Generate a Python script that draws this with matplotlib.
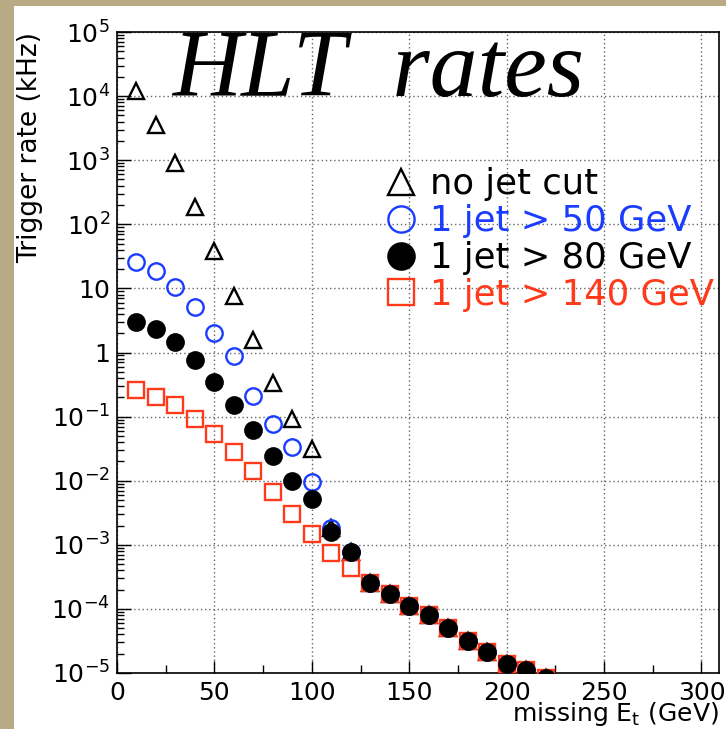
import math

import matplotlib
matplotlib.use("Agg")
import matplotlib.pyplot as plt
from matplotlib.patches import Rectangle
from matplotlib.ticker import FixedLocator, LogLocator, NullFormatter, FuncFormatter

plt.rcParams["font.family"] = ["DejaVu Sans"]
plt.rcParams["mathtext.fontset"] = "dejavusans"

# missing Et thresholds (GeV)
met = [10, 20, 30, 40, 50, 60, 70, 80, 90, 100, 110, 120,
       130, 140, 150, 160, 170, 180, 190, 200, 210, 220]

# trigger rates in kHz for each jet requirement
rate_nojet = [1.2e4, 3.6e3, 900, 185, 39, 7.5, 1.55, 0.33, 0.093, 0.031, 1.8e-3, 7.8e-4,
              2.5e-4, 1.7e-4, 1.12e-4, 7.9e-5, 5.0e-5, 3.2e-5, 2.1e-5, 1.37e-5, 1.1e-5, 8.3e-6]
rate_j50 = [26, 19, 10.7, 5.2, 2.05, 0.87, 0.21, 0.078, 0.033, 0.0096, 1.8e-3, 7.8e-4,
            2.5e-4, 1.7e-4, 1.12e-4, 7.9e-5, 5.0e-5, 3.2e-5, 2.1e-5, 1.37e-5, 1.1e-5, 8.3e-6]
rate_j80 = [3.0, 2.3, 1.45, 0.77, 0.35, 0.15, 0.062, 0.024, 0.010, 0.0052, 1.6e-3, 7.8e-4,
            2.5e-4, 1.7e-4, 1.12e-4, 7.9e-5, 5.0e-5, 3.2e-5, 2.1e-5, 1.37e-5, 1.1e-5, 8.3e-6]
rate_j140 = [0.26, 0.20, 0.15, 0.093, 0.054, 0.028, 0.014, 0.0067, 0.003, 0.0015, 7.5e-4, 4.4e-4,
             2.5e-4, 1.7e-4, 1.12e-4, 7.9e-5, 5.0e-5, 3.2e-5, 2.1e-5, 1.37e-5, 1.1e-5, 8.3e-6]

labels = ["no jet cut", "1 jet > 50 GeV", "1 jet > 80 GeV", "1 jet > 140 GeV"]
blue = "#1a3cff"
red = "#ff3a1a"

fig = plt.figure(figsize=(7.26, 7.29), dpi=100)
fig.patch.set_facecolor("#b8aa85")
# white slide panel behind the plot
fig.patches.append(Rectangle((14 / 726, 0), 1, 723 / 729, transform=fig.transFigure,
                             facecolor="white", edgecolor="none", zorder=-10))

ax = fig.add_axes([117 / 726, 56 / 729, 602 / 726, 641 / 729])
ax.set_yscale("log")
ax.set_xlim(0, 309)
ax.set_ylim(1e-5, 1e5)

ms = 11.8
mew = 1.7
h1, = ax.plot(met, rate_nojet, ls="none", marker="^", ms=ms, mfc="none", mec="black", mew=mew, zorder=3)
h2, = ax.plot(met, rate_j50, ls="none", marker="o", ms=ms, mfc="none", mec=blue, mew=mew, zorder=4)
h4, = ax.plot(met, rate_j140, ls="none", marker="s", ms=ms, mfc="none", mec=red, mew=mew, zorder=5)
h3, = ax.plot(met, rate_j80, ls="none", marker="o", ms=ms, mfc="black", mec="black", mew=mew, zorder=6)

# axis ticks and grid
ax.xaxis.set_major_locator(FixedLocator([0, 50, 100, 150, 200, 250, 300]))
ax.xaxis.set_minor_locator(FixedLocator([25, 75, 125, 175, 225, 275]))
ax.yaxis.set_major_locator(LogLocator(base=10, numticks=20))
ax.yaxis.set_minor_locator(LogLocator(base=10, subs=range(2, 10), numticks=20))
ax.yaxis.set_minor_formatter(NullFormatter())


def ylab(v, pos):
    e = int(round(math.log10(v)))
    if e == 0:
        return r"$1\hspace{0.75}$"
    if e == 1:
        return r"$10\hspace{0.75}$"
    return r"$10^{%d}$" % e


ax.yaxis.set_major_formatter(FuncFormatter(ylab))
ax.tick_params(axis="both", which="both", direction="in", top=False, right=False,
               labelsize=18, width=1, color="black")
ax.tick_params(axis="x", which="major", length=9, pad=6)
ax.tick_params(axis="x", which="minor", length=6)
ax.tick_params(axis="y", which="major", length=10, pad=5)
ax.tick_params(axis="y", which="minor", length=5)
ax.grid(True, which="major", color="#666666", linestyle=(0, (1, 2)), linewidth=1)
for s in ax.spines.values():
    s.set_linewidth(1.2)

ax.set_xlabel(r"missing E$_{\mathrm{t}}$ (GeV)", fontsize=18, loc="right", va="baseline")
ax.xaxis.set_label_coords(1.0, -0.075)
ax.set_ylabel("Trigger rate (kHz)", fontsize=19, loc="top")
ax.yaxis.set_label_coords(-0.122, 1.0)

ax.text(0.091, 0.900, "HLT  rates", transform=ax.transAxes, fontsize=69,
        family="Liberation Serif", style="italic", va="baseline", ha="left", zorder=7)

leg = ax.legend([h1, h2, h3, h4], labels, loc="upper left", bbox_to_anchor=(0.449, 0.789),
                frameon=False, fontsize=25.5, markerscale=1.6, handlelength=0.8,
                handletextpad=0.4, labelspacing=0.08, borderpad=0, borderaxespad=0,
                labelcolor=["black", blue, "black", red])
leg.set_zorder(8)

fig.savefig("out.png", dpi=100, facecolor=fig.get_facecolor())
